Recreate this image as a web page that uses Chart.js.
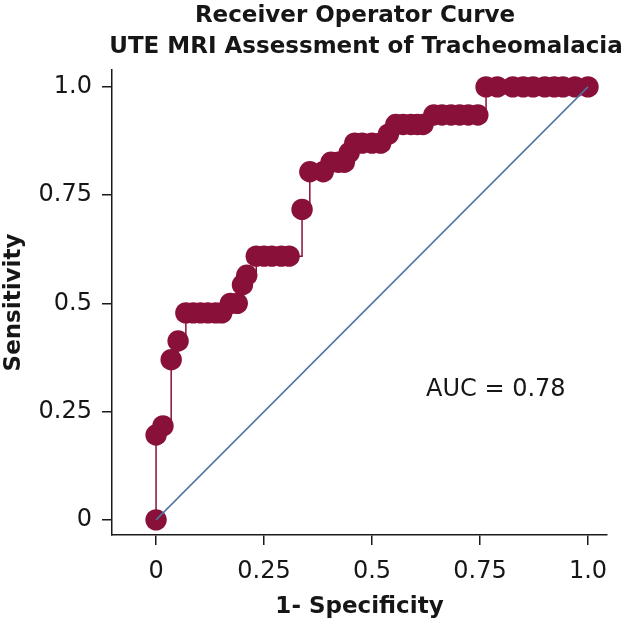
<!DOCTYPE html>
<html>
<head>
<meta charset="utf-8">
<script src="https://cdn.jsdelivr.net/npm/chart.js@4.4.1/dist/chart.umd.min.js"></script>
<style>
  html, body { margin: 0; padding: 0; background: #fff; }
  #wrap { width: 627px; height: 623px; }
</style>
</head>
<body>
<div id="wrap"><canvas id="roc" width="627" height="623"></canvas></div>
<script>
// ROC points (1 - specificity, sensitivity)
const fpr = [
  0, 0, 0.016, 0.035, 0.051,
  0.069, 0.086, 0.103, 0.120, 0.138, 0.152,
  0.172, 0.188, 0.200, 0.210,
  0.232, 0.250, 0.268, 0.290, 0.308,
  0.338, 0.356, 0.387, 0.405, 0.422, 0.436, 0.447, 0.460,
  0.477, 0.500, 0.520, 0.538,
  0.555, 0.572, 0.590, 0.605, 0.618,
  0.643, 0.662, 0.683, 0.703, 0.723, 0.745,
  0.764, 0.790, 0.826, 0.850, 0.873, 0.900, 0.922, 0.942, 0.970, 1.0
];
const tpr = [
  0, 0.196, 0.217, 0.370, 0.413,
  0.478, 0.478, 0.478, 0.478, 0.478, 0.478,
  0.500, 0.500, 0.543, 0.565,
  0.609, 0.609, 0.609, 0.609, 0.609,
  0.717, 0.804, 0.804, 0.826, 0.826, 0.826, 0.848, 0.870,
  0.870, 0.870, 0.870, 0.891,
  0.913, 0.913, 0.913, 0.913, 0.913,
  0.935, 0.935, 0.935, 0.935, 0.935, 0.935,
  1.0, 1.0, 1.0, 1.0, 1.0, 1.0, 1.0, 1.0, 1.0, 1.0
];

// reference (chance) line
const refX = [0, 1];
const refY = [0, 1];

const xTicks = [0, 0.25, 0.5, 0.75, 1];
const xTickLabels = ['0', '0.25', '0.5', '0.75', '1.0'];
const yTicks = [0, 0.25, 0.5, 0.75, 1];
const yTickLabels = ['0', '0.25', '0.5', '0.75', '1.0'];

const titleLines = ['Receiver Operator Curve', 'UTE MRI Assessment of Tracheomalacia'];
const xTitle = '1- Specificity';
const yTitle = 'Sensitivity';
const aucText = 'AUC = 0.78';
const aucPos = { x: 0.625, y: 0.30 };

const COLORS = {
  curve: '#891139',
  ref: '#4f74a0',
  axis: '#1a1a1a',
  text: '#161616'
};
const FONT = 'DejaVu Sans';

const curveData = fpr.map((x, i) => ({ x: x, y: tpr[i] }));
const refData = refX.map((x, i) => ({ x: x, y: refY[i] }));

// titles and AUC note, drawn on top of the chart
const annotations = {
  id: 'annotations',
  afterDraw(chart) {
    const ctx = chart.ctx;
    ctx.save();
    ctx.fillStyle = COLORS.text;
    ctx.textBaseline = 'alphabetic';
    ctx.textAlign = 'center';
    ctx.font = 'bold 23px "' + FONT + '"';
    ctx.fillText(titleLines[0], 355, 22);
    ctx.fillText(titleLines[1], 366, 53);

    ctx.textAlign = 'left';
    ctx.textBaseline = 'middle';
    ctx.font = '24px "' + FONT + '"';
    ctx.fillText(aucText, chart.scales.x.getPixelForValue(aucPos.x), chart.scales.y.getPixelForValue(aucPos.y));
    ctx.restore();
  }
};

new Chart(document.getElementById('roc'), {
  type: 'scatter',
  data: {
    datasets: [
      {
        label: 'reference',
        data: refData,
        showLine: true,
        borderColor: COLORS.ref,
        borderWidth: 1.5,
        pointRadius: 0,
        order: 0
      },
      {
        label: 'ROC',
        data: curveData,
        showLine: true,
        stepped: true,
        borderColor: COLORS.curve,
        borderWidth: 1.5,
        backgroundColor: COLORS.curve,
        pointRadius: 10.7,
        pointBorderWidth: 0,
        pointBackgroundColor: COLORS.curve,
        order: 1
      }
    ]
  },
  options: {
    responsive: false,
    animation: false,
    layout: { padding: { top: 70, right: 20, bottom: 0, left: 0 } },
    plugins: {
      legend: { display: false },
      tooltip: { enabled: false }
    },
    scales: {
      x: {
        type: 'linear',
        min: -0.102,
        max: 1.044,
        afterFit: s => { s.height = 88; },
        afterBuildTicks: s => { s.ticks = xTicks.map(v => ({ value: v })); },
        grid: { drawOnChartArea: false, drawTicks: true, tickLength: 10, color: COLORS.axis, lineWidth: 1.5 },
        border: { display: true, color: COLORS.axis, width: 1.5 },
        ticks: {
          autoSkip: false,
          maxRotation: 0,
          padding: 12,
          color: COLORS.text,
          font: { family: FONT, size: 24 },
          callback: (v, i) => xTickLabels[i]
        },
        title: {
          display: true,
          text: xTitle,
          color: COLORS.text,
          padding: { top: 0, bottom: 2 },
          font: { family: FONT, size: 23, weight: 'bold' }
        }
      },
      y: {
        type: 'linear',
        min: -0.035,
        max: 1.039,
        afterFit: s => { s.width = 112; },
        afterBuildTicks: s => { s.ticks = yTicks.map(v => ({ value: v })); },
        grid: { drawOnChartArea: false, drawTicks: true, tickLength: 10, color: COLORS.axis, lineWidth: 1.5 },
        border: { display: true, color: COLORS.axis, width: 1.5 },
        ticks: {
          autoSkip: false,
          padding: 10,
          color: COLORS.text,
          font: { family: FONT, size: 24 },
          callback: (v, i) => yTickLabels[i]
        },
        title: {
          display: true,
          text: yTitle,
          color: COLORS.text,
          padding: 0,
          font: { family: FONT, size: 23, weight: 'bold' }
        }
      }
    }
  },
  plugins: [annotations]
});
</script>
</body>
</html>
